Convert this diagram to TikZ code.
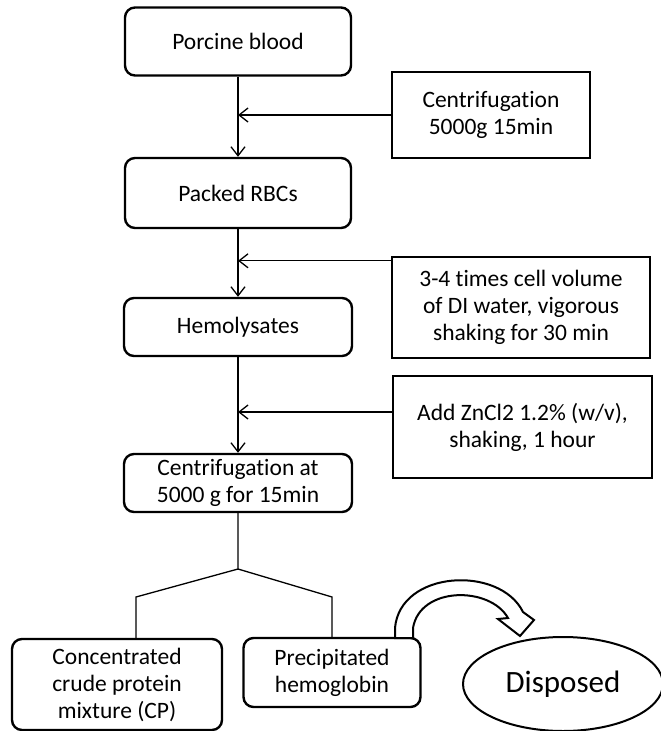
\documentclass[tikz,border=0pt]{standalone}
\usepackage{fontspec}
\setmainfont{Carlito}[Ligatures=NoCommon]
\usetikzlibrary{arrows.meta,shapes.geometric}

\begin{document}
\begin{tikzpicture}[x=1pt, y=-1pt,
		font=\fontsize{23.5}{27}\selectfont,
		>={Straight Barb[length=9pt,width=14pt]},
		stage/.style={draw, line width=2.4pt, rounded corners=10pt, align=center, inner sep=0pt},
		treat/.style={draw, line width=2.4pt, align=center, inner sep=0pt},
		conn/.style={line width=1.3pt}]
		%%%%% START %%%%%
		
		\useasboundingbox (0, 0) rectangle (661, 731);
		
		\node[stage, minimum width=226pt, minimum height=68pt] (blood) at (238, 41.5) {Porcine blood};
		\node[stage, minimum width=226pt, minimum height=70pt] (rbc) at (238, 193) {Packed RBCs};
		\node[stage, minimum width=228pt, minimum height=58pt] (hemo) at (238, 327) {Hemolysates};
		\node[stage, minimum width=228pt, minimum height=58pt] (cfg) at (238, 483) {Centrifugation at\\5000 g for 15min};
		
		\node[treat, minimum width=198pt, minimum height=86pt] (centri) at (491, 115) {Centrifugation\\5000g 15min};
		\node[treat, minimum width=258pt, minimum height=101pt] (water) at (521, 307.5) {3-4 times cell volume\\of DI water, vigorous\\shaking for 30 min};
		\node[treat, minimum width=259pt, minimum height=102pt] (zinc) at (522.5, 427) {Add ZnCl2 1.2\% (w/v),\\shaking, 1 hour};
		
		\node[stage, minimum width=210pt, minimum height=91pt] (cp) at (117, 684.5) {Concentrated\\crude protein\\mixture (CP)};
		\node[stage, minimum width=177pt, minimum height=69pt] (hb) at (332, 672.5) {Precipitated\\hemoglobin};
		\node[draw, ellipse, line width=2pt, minimum width=200pt, minimum height=94pt, font=\fontsize{31}{36}\selectfont] (disp) at (563, 684) {Disposed};
		
		\draw[conn, ->] (blood) -- (rbc);
		\draw[conn, ->] (rbc) -- (hemo);
		\draw[conn, ->] (hemo) -- (cfg);
		
		\coordinate (wa) at ([yshift=-5pt]water.north west);
		\coordinate (za) at ([yshift=15pt]zinc.west);
		\draw[conn, ->] (centri.west) -- (centri.west -| blood.south);
		\draw[conn, ->] (wa) -- (wa -| rbc.south);
		\draw[conn, ->] (za) -- (za -| hemo.south);
		
		\coordinate (fork) at (238, 569);
		\coordinate (forkL) at (136, 597);
		\coordinate (forkR) at (332, 597);
		\draw[conn] (cfg) -- (fork) -- (forkL) -- (forkL |- cp.north);
		\draw[conn] (fork) -- (forkR) -- (hb);
		
		\draw[line width=2pt, fill=white, line join=miter] (395, 638) -- (395, 628)
			.. controls (400, 570) and (500, 565) .. (523, 612)
			-- (534, 620) -- (520, 636) -- (498, 619) -- (508, 618)
			.. controls (490, 586) and (420, 586) .. (413, 628) -- (413, 638) -- cycle;
		
		%%%%% END %%%%%
\end{tikzpicture}
\end{document}
